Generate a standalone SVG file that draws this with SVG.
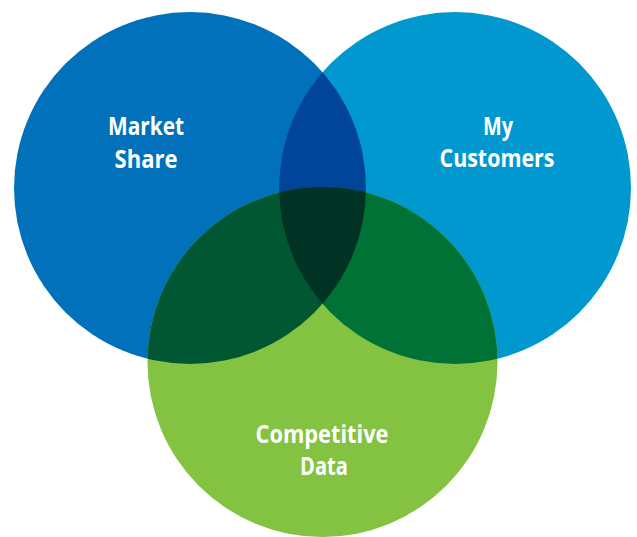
<svg xmlns="http://www.w3.org/2000/svg" width="637" height="537" viewBox="0 0 637 537">
  <style>
    .lbl { font-family: "Open Sans", "Liberation Sans", sans-serif; font-weight: 700; font-size: 25px; fill: #ffffff; text-anchor: middle; }
  </style>
  <defs>
    <clipPath id="clipLeft"><circle cx="190" cy="188" r="176"/></clipPath>
    <clipPath id="clipRight"><circle cx="455" cy="188" r="176"/></clipPath>
  </defs>
  <rect width="637" height="537" fill="#ffffff"/>

  <!-- base circles -->
  <g id="market-share">
    <circle cx="190" cy="188" r="176" fill="#0071BA"/>
  </g>
  <g id="my-customers">
    <circle cx="455" cy="188" r="176" fill="#0098CE"/>
  </g>
  <g id="competitive-data">
    <circle cx="322.5" cy="362" r="175" fill="#83C341"/>
  </g>

  <!-- overlap regions -->
  <g id="overlaps">
    <circle cx="455" cy="188" r="176" fill="#004599" clip-path="url(#clipLeft)"/>
    <circle cx="322.5" cy="362" r="175" fill="#005731" clip-path="url(#clipLeft)"/>
    <circle cx="322.5" cy="362" r="175" fill="#007235" clip-path="url(#clipRight)"/>
    <g clip-path="url(#clipLeft)">
      <circle cx="322.5" cy="362" r="175" fill="#003324" clip-path="url(#clipRight)"/>
    </g>
  </g>

  <!-- labels -->
  <g id="labels">
    <text class="lbl" x="146" y="135" textLength="76" lengthAdjust="spacingAndGlyphs">Market</text>
    <text class="lbl" x="146" y="168" textLength="63" lengthAdjust="spacingAndGlyphs">Share</text>
    <text class="lbl" x="498" y="135" textLength="30" lengthAdjust="spacingAndGlyphs">My</text>
    <text class="lbl" x="497" y="167" textLength="115" lengthAdjust="spacingAndGlyphs">Customers</text>
    <text class="lbl" x="322" y="443" textLength="133" lengthAdjust="spacingAndGlyphs">Competitive</text>
    <text class="lbl" x="324" y="475" textLength="48" lengthAdjust="spacingAndGlyphs">Data</text>
  </g>
</svg>
